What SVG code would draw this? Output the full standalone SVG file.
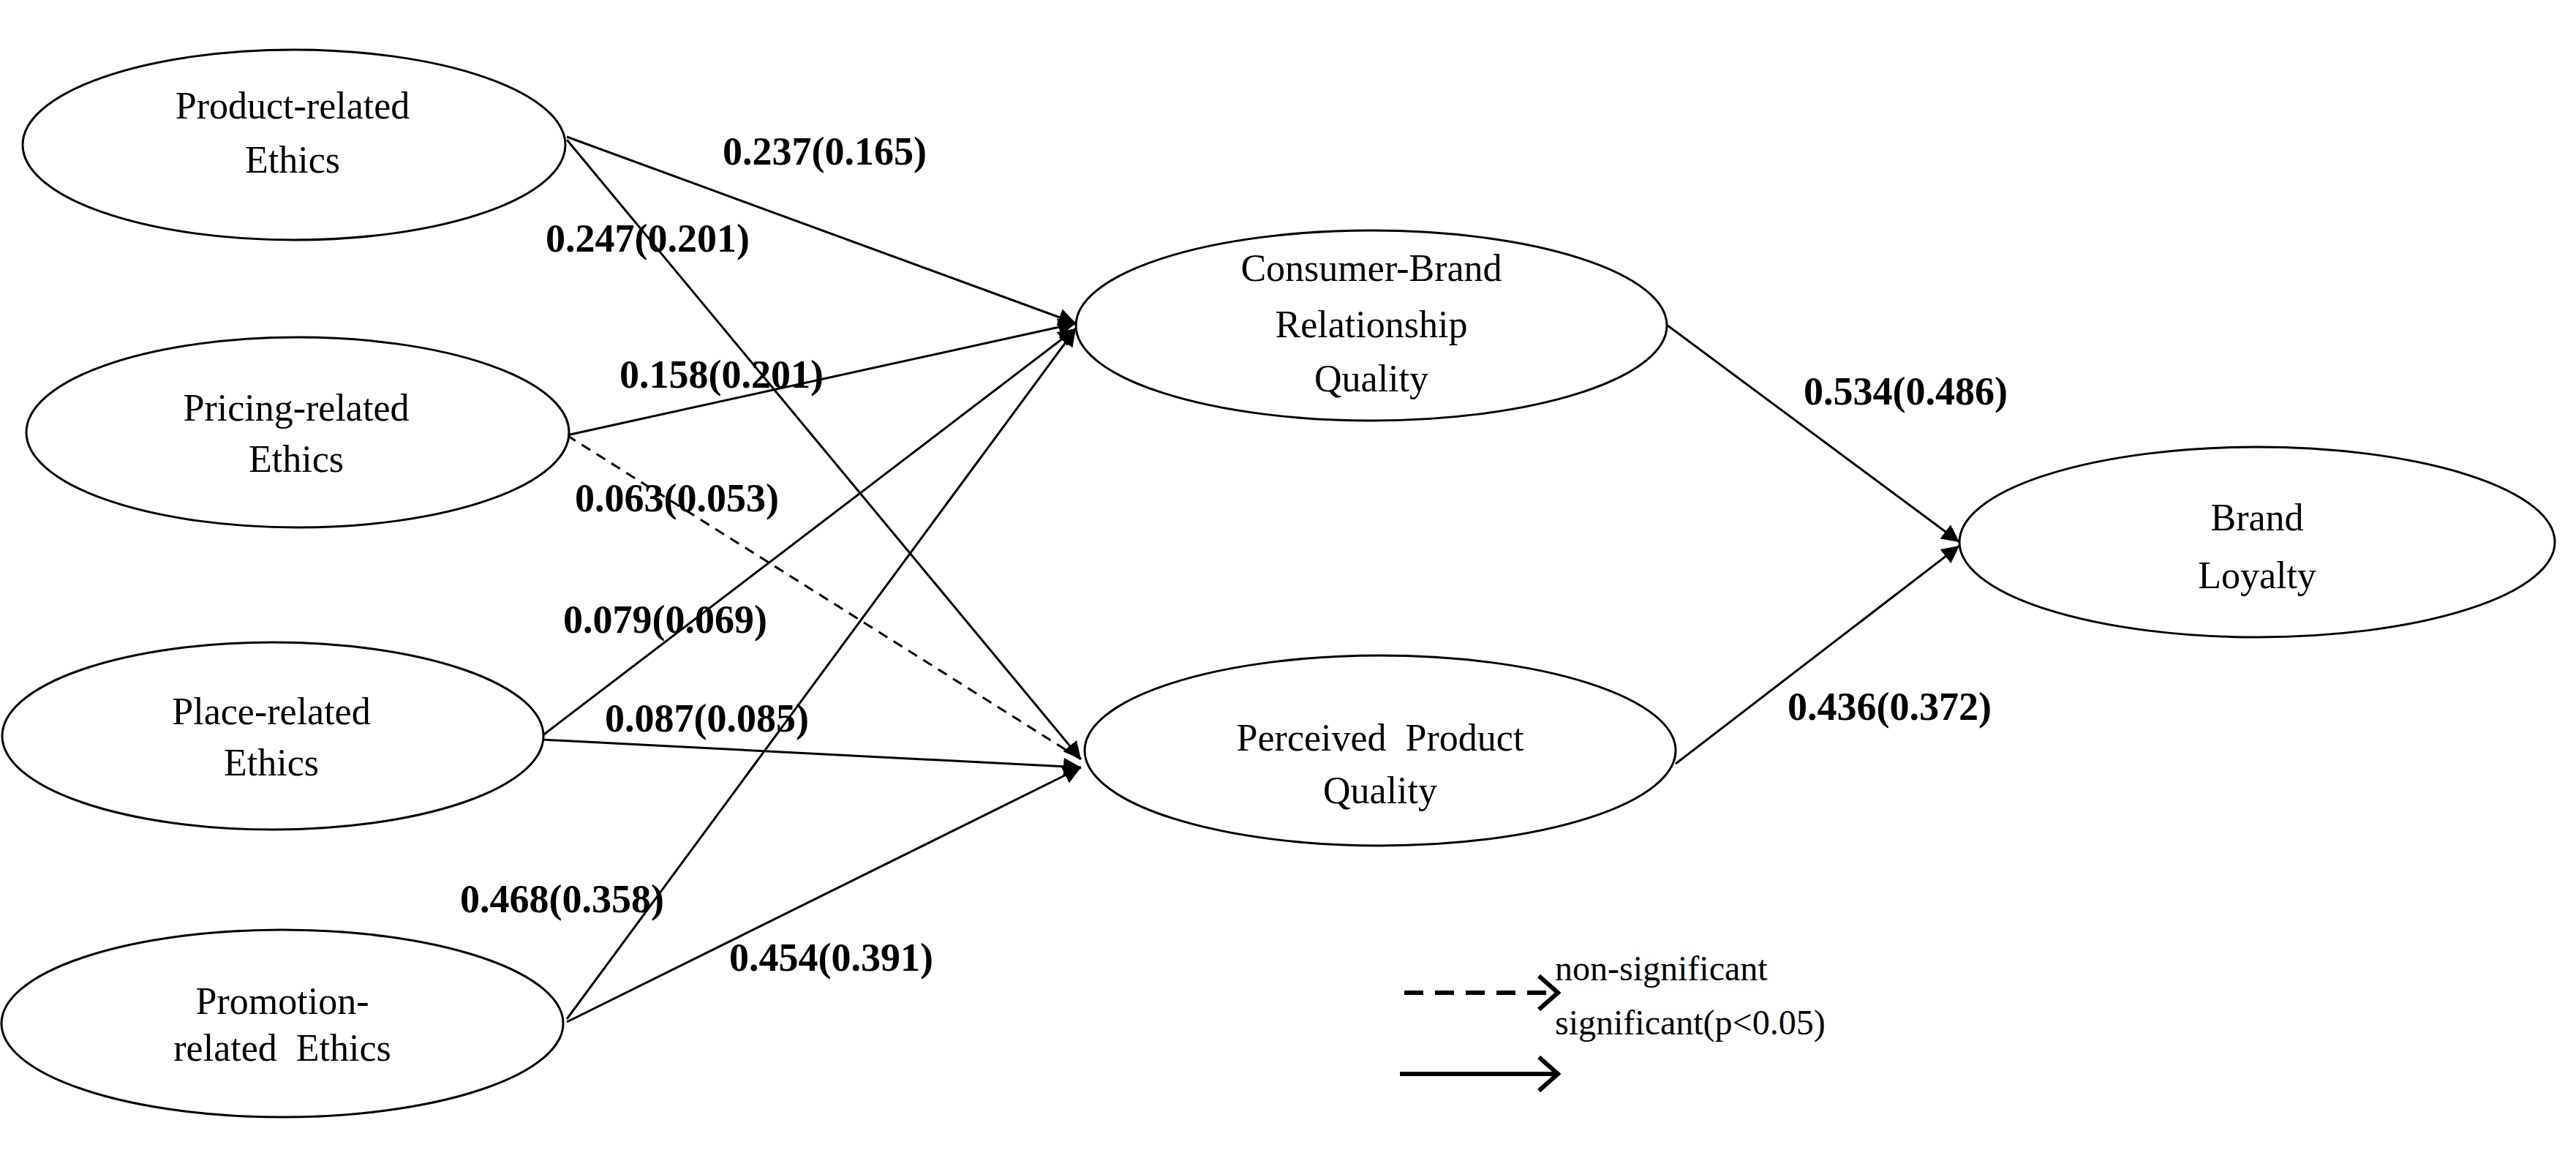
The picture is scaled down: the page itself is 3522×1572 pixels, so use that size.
<svg xmlns="http://www.w3.org/2000/svg" width="3522" height="1572" viewBox="0 0 3522 1572">
<style>
.n{fill:#fff;stroke:#000;stroke-width:3}
.t{font-family:"Liberation Serif",serif;font-size:52px;text-anchor:middle;fill:#000}
.l{font-family:"Liberation Serif",serif;font-size:54px;font-weight:bold;fill:#000}
.c{stroke:#000;stroke-width:3;fill:none}
.lg{font-family:"Liberation Serif",serif;font-size:48px;fill:#000}
</style>
<defs>
<marker id="a" viewBox="0 0 10 10" refX="10" refY="5" markerWidth="9" markerHeight="9" markerUnits="userSpaceOnUse" orient="auto"><path d="M0,0L10,5L0,10z" fill="#000"/></marker>
<marker id="ab" viewBox="0 0 10 10" refX="10" refY="5" markerWidth="24" markerHeight="24" markerUnits="userSpaceOnUse" orient="auto"><path d="M0,0L10,5L0,10z" fill="#000"/></marker>
</defs>
<g id="connectors">
<line class="c" x1="775" y1="187" x2="1471" y2="442" marker-end="url(#ab)"/>
<line class="c" x1="775" y1="191" x2="1478" y2="1038" marker-end="url(#ab)"/>
<line class="c" x1="775" y1="595" x2="1471" y2="442" marker-end="url(#ab)"/>
<line class="c" x1="775" y1="595" x2="1478" y2="1038" stroke-dasharray="14 10" stroke-width="2.5"/>
<line class="c" x1="741" y1="1006" x2="1471" y2="449" marker-end="url(#ab)"/>
<line class="c" x1="741" y1="1011" x2="1478" y2="1049" marker-end="url(#ab)"/>
<line class="c" x1="775" y1="1393" x2="1471" y2="449" marker-end="url(#ab)"/>
<line class="c" x1="775" y1="1397" x2="1478" y2="1049" marker-end="url(#ab)"/>
<line class="c" x1="2280" y1="445" x2="2679" y2="741" marker-end="url(#ab)"/>
<line class="c" x1="2291" y1="1044" x2="2679" y2="746" marker-end="url(#ab)"/>
</g>
<g id="n1"><ellipse class="n" cx="402" cy="198" rx="371" ry="130"/><text class="t" x="400" y="162">Product-related</text><text class="t" x="400" y="236">Ethics</text></g>
<g id="n2"><ellipse class="n" cx="407" cy="591" rx="371" ry="130"/><text class="t" x="405" y="575">Pricing-related</text><text class="t" x="405" y="645">Ethics</text></g>
<g id="n3"><ellipse class="n" cx="373" cy="1006" rx="370" ry="128"/><text class="t" x="371" y="990">Place-related</text><text class="t" x="371" y="1060">Ethics</text></g>
<g id="n4"><ellipse class="n" cx="386" cy="1399" rx="384" ry="128"/><text class="t" x="386" y="1386">Promotion-</text><text class="t" x="386" y="1450" xml:space="preserve">related  Ethics</text></g>
<g id="n5"><ellipse class="n" cx="1875" cy="445" rx="404" ry="130"/><text class="t" x="1875" y="384">Consumer-Brand</text><text class="t" x="1875" y="461">Relationship</text><text class="t" x="1875" y="535">Quality</text></g>
<g id="n6"><ellipse class="n" cx="1887" cy="1026" rx="404" ry="130"/><text class="t" x="1887" y="1026" xml:space="preserve">Perceived  Product</text><text class="t" x="1887" y="1098">Quality</text></g>
<g id="n7"><ellipse class="n" cx="3086" cy="741" rx="407" ry="130"/><text class="t" x="3086" y="725">Brand</text><text class="t" x="3086" y="804">Loyalty</text></g>
<g id="labels">
<text class="l" x="988" y="225">0.237(0.165)</text>
<text class="l" x="746" y="344">0.247(0.201)</text>
<text class="l" x="847" y="530">0.158(0.201)</text>
<text class="l" x="786" y="699">0.063(0.053)</text>
<text class="l" x="770" y="865">0.079(0.069)</text>
<text class="l" x="827" y="1000">0.087(0.085)</text>
<text class="l" x="629" y="1247">0.468(0.358)</text>
<text class="l" x="997" y="1327">0.454(0.391)</text>
<text class="l" x="2466" y="553">0.534(0.486)</text>
<text class="l" x="2444" y="984">0.436(0.372)</text>
</g>
<g id="legend">
<line x1="1920" y1="1357" x2="2125" y2="1357" stroke="#000" stroke-width="6" stroke-dasharray="26 16"/>
<path d="M2104,1334L2130,1357L2104,1380" stroke="#000" stroke-width="6" fill="none"/>
<line x1="1914" y1="1468" x2="2127" y2="1468" stroke="#000" stroke-width="6"/>
<path d="M2104,1445L2130,1468L2104,1491" stroke="#000" stroke-width="6" fill="none"/>
<text class="lg" x="2126" y="1340">non-significant</text>
<text class="lg" x="2126" y="1414">significant(p&lt;0.05)</text>
</g>
</svg>
